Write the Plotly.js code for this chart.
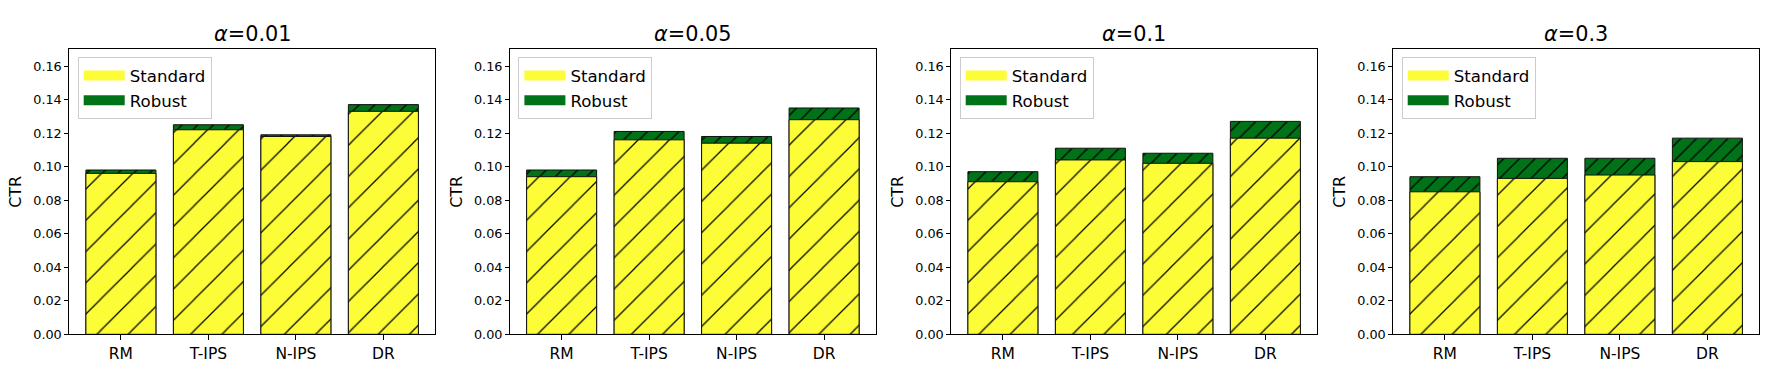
<!DOCTYPE html>
<html>
<head>
<meta charset="utf-8">
<script src="https://cdn.plot.ly/plotly-3.0.1.min.js"></script>
<style>html,body{margin:0;padding:0;background:#fff;}#chart{width:1788px;height:392px;}</style>
</head>
<body>
<div id="chart"></div>
<script>
// ---- data ----
var categories = ['RM', 'T-IPS', 'N-IPS', 'DR'];
var alphaLabels = ['0.01', '0.05', '0.1', '0.3'];

var standard_a001 = [0.096, 0.122, 0.118, 0.133];
var robust_a001   = [0.098, 0.125, 0.119, 0.137];

var standard_a005 = [0.094, 0.116, 0.114, 0.128];
var robust_a005   = [0.098, 0.121, 0.118, 0.135];

var standard_a01  = [0.091, 0.104, 0.102, 0.117];
var robust_a01    = [0.097, 0.111, 0.108, 0.127];

var standard_a03  = [0.085, 0.093, 0.095, 0.103];
var robust_a03    = [0.094, 0.105, 0.105, 0.117];

var yTickVals = [0, 0.02, 0.04, 0.06, 0.08, 0.10, 0.12, 0.14, 0.16];
var yTickText = ['0.00', '0.02', '0.04', '0.06', '0.08', '0.10', '0.12', '0.14', '0.16'];

// ---- style ----
var YELLOW = '#fdfd37';
var GREEN = '#007218';
var FONT = 'DejaVu Sans, Liberation Sans, sans-serif';

var panels = [
  {std: standard_a001, rob: robust_a001},
  {std: standard_a005, rob: robust_a005},
  {std: standard_a01,  rob: robust_a01},
  {std: standard_a03,  rob: robust_a03}
];

var W = 1788, H = 392;
var plotLeftPx = [69.3, 510.0, 951.3, 1393.3];
var plotWidthPx = 365.7;
var plotTopPx = 49.3, plotBottomPx = 334.3;

var traces = [];
var layout = {
  width: W, height: H,
  margin: {l: 0, r: 0, t: 0, b: 0},
  paper_bgcolor: '#ffffff',
  plot_bgcolor: '#ffffff',
  barmode: 'overlay',
  showlegend: true,
  font: {family: FONT, color: '#000'},
  annotations: []
};

panels.forEach(function (p, i) {
  var n = i + 1;
  var xa = n === 1 ? 'x' : 'x' + n;
  var ya = n === 1 ? 'y' : 'y' + n;
  var lg = n === 1 ? 'legend' : 'legend' + n;

  // robust (total height) drawn first, standard drawn over it
  traces.push({
    type: 'bar', x: categories, y: p.rob, xaxis: xa, yaxis: ya,
    width: 0.8, showlegend: false, hoverinfo: 'skip',
    marker: {
      color: GREEN, opacity: 1,
      line: {color: '#111', width: 1},
      pattern: {shape: '/', size: 11.1, solidity: 0.11, fgcolor: '#000', bgcolor: GREEN, fillmode: 'replace'}
    }
  });
  traces.push({
    type: 'bar', x: categories, y: p.std, xaxis: xa, yaxis: ya,
    width: 0.8, showlegend: false, hoverinfo: 'skip',
    marker: {
      color: YELLOW, opacity: 1,
      line: {color: '#111', width: 1},
      pattern: {shape: '/', size: 22.1, solidity: 0.055, fgcolor: '#000', bgcolor: YELLOW, fillmode: 'replace'}
    }
  });
  // legend entries (solid patches)
  traces.push({
    type: 'scatter', mode: 'lines', x: [null], y: [null], xaxis: xa, yaxis: ya,
    name: 'Standard', legend: lg, showlegend: true,
    line: {color: YELLOW, width: 13}
  });
  traces.push({
    type: 'scatter', mode: 'lines', x: [null], y: [null], xaxis: xa, yaxis: ya,
    name: 'Robust', legend: lg, showlegend: true,
    line: {color: GREEN, width: 13}
  });

  var x0 = plotLeftPx[i] / W, x1 = (plotLeftPx[i] + plotWidthPx) / W;
  layout['xaxis' + (n === 1 ? '' : n)] = {
    domain: [x0, x1], anchor: ya,
    type: 'category', range: [-0.59, 3.59],
    showline: true, mirror: true, linecolor: '#000', linewidth: 1,
    ticks: 'outside', ticklen: 5, tickwidth: 1, tickcolor: '#000',
    tickfont: {family: FONT, size: 15.5, color: '#000'},
    showgrid: false, zeroline: false, fixedrange: true
  };
  layout['yaxis' + (n === 1 ? '' : n)] = {
    domain: [1 - plotBottomPx / H, 1 - plotTopPx / H], anchor: xa,
    range: [0, 0.17],
    tickmode: 'array', tickvals: yTickVals, ticktext: yTickText,
    showline: true, mirror: true, linecolor: '#000', linewidth: 1,
    ticks: 'outside', ticklen: 4, tickwidth: 1, tickcolor: '#000',
    tickfont: {family: FONT, size: 12.8, color: '#000'},
    showgrid: false, zeroline: false, fixedrange: true,
    title: {text: 'CTR', font: {family: FONT, size: 16, color: '#000'}, standoff: 7},
    automargin: false
  };
  layout[lg] = {
    x: (plotLeftPx[i] + 8.4) / W, y: 1 - 57.3 / H,
    xanchor: 'left', yanchor: 'top',
    bgcolor: 'rgba(255,255,255,0.8)',
    bordercolor: '#cccccc', borderwidth: 1,
    font: {family: FONT, size: 16.6, color: '#000'},
    itemwidth: 41, traceorder: 'normal'
  };
  layout.annotations.push({
    xref: 'paper', yref: 'paper',
    x: (plotLeftPx[i] + plotWidthPx / 2) / W, y: 1 - 34 / H,
    xanchor: 'center', yanchor: 'middle', showarrow: false,
    text: '<i>α</i>=' + alphaLabels[i],
    font: {family: FONT, size: 20.8, color: '#000'}
  });
});

Plotly.newPlot('chart', traces, layout, {staticPlot: true, displayModeBar: false});
</script>
</body>
</html>
